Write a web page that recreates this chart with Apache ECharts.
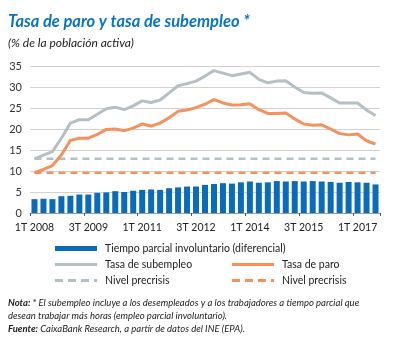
<!DOCTYPE html>
<html>
<head>
<meta charset="utf-8">
<script src="https://cdn.jsdelivr.net/npm/echarts@6/dist/echarts.min.js"></script>
<style>
html,body{margin:0;padding:0;background:#fff;}
#c{width:401px;height:338px;}
</style>
</head>
<body>
<div id="c"></div>
<script>
const categories = [
 '1T 2008','2T 2008','3T 2008','4T 2008',
 '1T 2009','2T 2009','3T 2009','4T 2009',
 '1T 2010','2T 2010','3T 2010','4T 2010',
 '1T 2011','2T 2011','3T 2011','4T 2011',
 '1T 2012','2T 2012','3T 2012','4T 2012',
 '1T 2013','2T 2013','3T 2013','4T 2013',
 '1T 2014','2T 2014','3T 2014','4T 2014',
 '1T 2015','2T 2015','3T 2015','4T 2015',
 '1T 2016','2T 2016','3T 2016','4T 2016',
 '1T 2017','2T 2017','3T 2017'
];
const tiempoParcial = [3.3,3.4,3.3,4.0,4.1,4.4,4.4,4.8,4.9,5.2,5.0,5.3,5.5,5.6,5.5,5.9,6.1,6.3,6.3,6.7,6.9,7.1,7.0,7.3,7.5,7.2,7.3,7.6,7.5,7.6,7.5,7.6,7.5,7.4,7.2,7.4,7.3,7.2,6.8];
const tasaSubempleo = [12.9,13.8,14.6,17.8,21.4,22.2,22.2,23.5,24.8,25.2,24.6,25.5,26.7,26.3,26.9,28.6,30.3,30.8,31.4,32.6,33.9,33.3,32.7,33.1,33.5,31.8,31.0,31.4,31.5,30.0,28.7,28.5,28.6,27.4,26.2,26.2,26.2,24.5,23.2];
const tasaParo = [9.6,10.4,11.3,13.8,17.3,17.8,17.8,18.7,19.9,20.0,19.6,20.2,21.2,20.7,21.4,22.7,24.2,24.5,25.1,25.9,27.0,26.2,25.7,25.8,26.0,24.6,23.7,23.7,23.8,22.4,21.2,20.9,21.0,20.0,18.9,18.6,18.8,17.2,16.4];
const precrisisSubempleo = 12.9;
const precrisisParo = 9.6;
const yTicks = [0,5,10,15,20,25,30,35];

const BLUE = '#0a6cb8', GREY = '#b5c0c6', ORANGE = '#f4915d';
const FONT = 'Lato';
const DASH_ICON = 'path://M0,0h8v3h-8z M13,0h8v3h-8z M26,0h8v3h-8z M39,0h3v3h-3z';

const chart = echarts.init(document.getElementById('c'), null, {renderer:'canvas'});
const legendText = {fontFamily: FONT, fontSize: 10.5, color: '#222', padding:[0,0,0,3]};
function lg(name, left, top, extra){
  return Object.assign({show:true, data:[name], left:left, top:top, itemWidth:42, itemHeight:3,
    icon:'rect', textStyle: legendText, selectedMode:false, padding:0,
    formatter: function(n){ return n.indexOf('Nivel precrisis')===0 ? 'Nivel precrisis' : n; }}, extra||{});
}
chart.setOption({
  animation:false,
  textStyle:{fontFamily:FONT},
  grid:{left:30, right:21, top:66, bottom:125, containLabel:false},
  legend:[
    lg('Tiempo parcial involuntario (diferencial)', 55, 243, {itemHeight:5}),
    lg('Tasa de subempleo', 55, 259),
    lg('Tasa de paro', 232, 259),
    lg('Nivel precrisis (subempleo)', 55, 275, {icon:DASH_ICON}),
    lg('Nivel precrisis (paro)', 232, 275, {icon:DASH_ICON})
  ],
  xAxis:{
    type:'category', data:categories, boundaryGap:true,
    axisLine:{show:true, lineStyle:{color:'#9a9a9a', width:1}},
    axisTick:{show:true, interval:5, length:3, lineStyle:{color:'#555'}},
    axisLabel:{interval:5, fontSize:10.5, color:'#222', margin:9, fontFamily:FONT}
  },
  yAxis:{
    type:'value', min:yTicks[0], max:yTicks[yTicks.length-1], interval:5,
    axisLine:{show:false}, axisTick:{show:false},
    axisLabel:{fontSize:11, color:'#333', margin:8, fontFamily:FONT},
    splitLine:{lineStyle:{color:'#d2d2d2', width:1}}
  },
  series:[
    {name:'Tiempo parcial involuntario (diferencial)', type:'bar', data:tiempoParcial, barWidth:6,
     itemStyle:{color:BLUE}},
    {name:'Nivel precrisis (subempleo)', type:'line', data:categories.map(()=>precrisisSubempleo),
     symbol:'none', lineStyle:{color:GREY, width:2.5, type:[7,5]}, itemStyle:{color:GREY}},
    {name:'Nivel precrisis (paro)', type:'line', data:categories.map(()=>precrisisParo),
     symbol:'none', lineStyle:{color:ORANGE, width:2.5, type:[7,5]}, itemStyle:{color:ORANGE}},
    {name:'Tasa de subempleo', type:'line', data:tasaSubempleo, symbol:'none',
     lineStyle:{color:GREY, width:3}, itemStyle:{color:GREY}},
    {name:'Tasa de paro', type:'line', data:tasaParo, symbol:'none',
     lineStyle:{color:ORANGE, width:3}, itemStyle:{color:ORANGE}}
  ],
  graphic:[
    {type:'text', left:8, top:13, style:{text:'Tasa de paro y tasa de subempleo *', fill:'#0a74c4',
      font:'italic bold 16.5px '+FONT}},
    {type:'text', left:8, top:37, style:{text:'(% de la población activa)', fill:'#222',
      font:'italic 12px '+FONT}},
    {type:'text', left:8, top:296, style:{
      text:'{b|Nota:} * El subempleo incluye a los desempleados y a los trabajadores a tiempo parcial que\ndesean trabajar más horas (empleo parcial involuntario).\n{b|Fuente:} CaixaBank Research, a partir de datos del INE (EPA).',
      fill:'#222', font:'italic 9.5px '+FONT, lineHeight:13,
      rich:{b:{fontWeight:'bold', fontStyle:'italic', fontSize:9.5, fontFamily:FONT, fill:'#222', lineHeight:13}}
    }}
  ]
});
</script>
</body>
</html>
